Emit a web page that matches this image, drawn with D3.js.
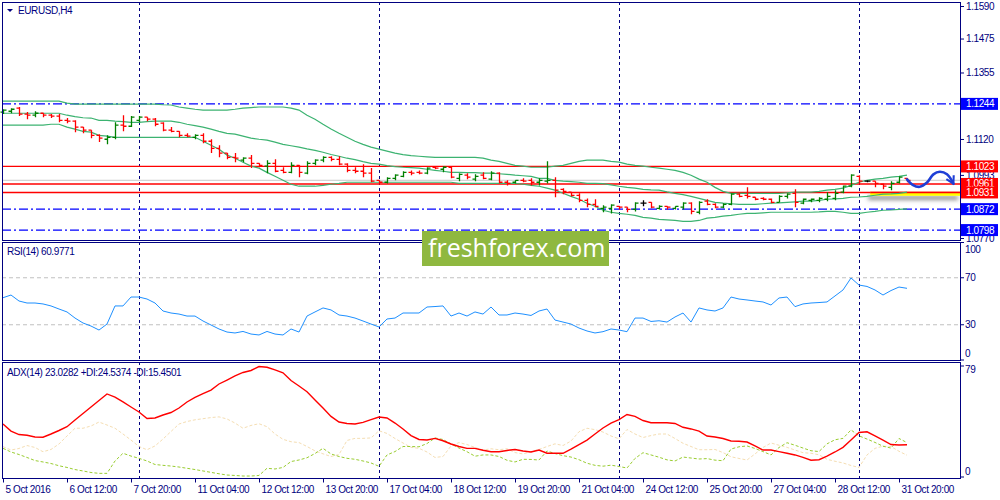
<!DOCTYPE html>
<html>
<head>
<meta charset="utf-8">
<title>EURUSD H4</title>
<script src="https://d3js.org/d3.v7.min.js"></script>
<style>
  body { margin: 0; background: #fff; }
  svg text { font-family: "Liberation Sans", Arial, sans-serif; font-size: 10px; letter-spacing: -0.4px; }
</style>
</head>
<body>
<script>
// ---- data (EURUSD H4, 5 Oct - 1 Nov 2016) ----
var xTickBars = [0, 8, 16, 24, 32, 40, 48, 56, 64, 72, 80, 88, 96, 104, 112]
var xTickLabels = ["5 Oct 2016", "6 Oct 12:00", "7 Oct 20:00", "11 Oct 04:00", "12 Oct 12:00",
    "13 Oct 20:00", "17 Oct 04:00", "18 Oct 12:00", "19 Oct 20:00", "21 Oct 04:00",
    "24 Oct 12:00", "25 Oct 20:00", "27 Oct 04:00", "28 Oct 12:00", "31 Oct 20:00"]
var weekSeparators = [17, 47, 77, 107]

var opens = [1.1215,1.1218,1.1229,1.1208,1.1204,1.1211,1.1204,1.1201,1.1186,1.1183,
    1.1162,1.1151,1.1133,1.1119,1.1126,1.1169,1.1165,1.1186,1.1197,1.1190,
    1.1176,1.1151,1.1147,1.1133,1.1126,1.1133,1.1112,1.1087,1.1070,1.1055,
    1.1045,1.1052,1.1034,1.1024,1.1034,1.1009,1.1002,1.1027,1.0999,1.1034,
    1.1045,1.1055,1.1048,1.1031,1.1009,1.1006,1.0999,1.0974,1.0967,1.0981,
    1.0988,1.1002,1.1002,1.0999,1.1020,1.1013,1.1020,1.0981,1.0992,1.0978,
    1.0992,1.0978,1.0999,1.0967,1.0967,1.0974,1.0974,1.0967,1.0971,1.0974,
    1.0942,1.0932,1.0921,1.0903,1.0889,1.0875,1.0875,1.0882,1.0879,1.0871,
    1.0893,1.0896,1.0875,1.0882,1.0875,1.0879,1.0893,1.0861,1.0900,1.0889,
    1.0879,1.0889,1.0925,1.0921,1.0914,1.0910,1.0907,1.0896,1.0917,1.0928,
    1.0893,1.0903,1.0903,1.0907,1.0910,1.0932,1.0953,1.0988,1.0971,1.0971,
    1.0960,1.0949,1.0967,1.0981]
var highs = [1.1225,1.1229,1.1233,1.1215,1.1218,1.1211,1.1208,1.1208,1.1194,1.1186,
    1.1162,1.1151,1.1137,1.1133,1.1179,1.1204,1.1201,1.1201,1.1197,1.1194,
    1.1179,1.1162,1.1147,1.1140,1.1137,1.1140,1.1119,1.1098,1.1070,1.1070,
    1.1055,1.1063,1.1034,1.1045,1.1048,1.1020,1.1038,1.1027,1.1041,1.1048,
    1.1059,1.1059,1.1059,1.1034,1.1020,1.1031,1.1017,1.0974,1.0985,1.0995,
    1.1006,1.1009,1.1009,1.1020,1.1024,1.1024,1.1024,1.0999,1.0999,1.0995,
    1.1002,1.1006,1.1002,1.0974,1.0974,1.0981,1.0981,1.0981,1.1041,1.0985,
    1.0946,1.0932,1.0928,1.0910,1.0907,1.0886,1.0889,1.0882,1.0879,1.0896,
    1.0903,1.0896,1.0886,1.0882,1.0882,1.0896,1.0896,1.0900,1.0907,1.0893,
    1.0893,1.0928,1.0928,1.0949,1.0914,1.0914,1.0910,1.0921,1.0928,1.0942,
    1.0910,1.0910,1.0914,1.0932,1.0939,1.0956,1.0995,1.0992,1.0974,1.0971,
    1.0963,1.0971,1.0988,1.0981]
var lows = [1.1208,1.1211,1.1201,1.1190,1.1197,1.1197,1.1194,1.1179,1.1176,1.1144,
    1.1140,1.1123,1.1109,1.1101,1.1119,1.1147,1.1162,1.1179,1.1183,1.1165,
    1.1147,1.1144,1.1126,1.1126,1.1119,1.1105,1.1070,1.1055,1.1048,1.1038,
    1.1038,1.1017,1.1020,1.0999,1.1002,1.0999,1.0999,1.0985,1.0995,1.1027,
    1.1038,1.1041,1.1027,1.1002,1.0999,1.0985,1.0967,1.0963,1.0963,1.0974,
    1.0985,1.0992,1.0995,1.0995,1.1013,1.1002,1.0981,1.0971,1.0978,1.0971,
    1.0978,1.0974,1.0963,1.0956,1.0963,1.0967,1.0956,1.0956,1.0963,1.0914,
    1.0925,1.0917,1.0896,1.0879,1.0879,1.0861,1.0857,1.0871,1.0861,1.0864,
    1.0882,1.0875,1.0871,1.0871,1.0871,1.0871,1.0854,1.0854,1.0886,1.0875,
    1.0875,1.0886,1.0914,1.0910,1.0903,1.0903,1.0893,1.0896,1.0910,1.0879,
    1.0889,1.0896,1.0896,1.0900,1.0903,1.0928,1.0949,1.0963,1.0967,1.0949,
    1.0942,1.0939,1.0963,1.0967]
var closes = [1.1222,1.1225,1.1208,1.1204,1.1211,1.1204,1.1201,1.1186,1.1183,1.1162,
    1.1151,1.1133,1.1123,1.1126,1.1169,1.1165,1.1197,1.1197,1.1190,1.1172,
    1.1151,1.1147,1.1133,1.1130,1.1133,1.1112,1.1087,1.1070,1.1055,1.1052,
    1.1052,1.1034,1.1027,1.1034,1.1006,1.1002,1.1027,1.1002,1.1034,1.1045,
    1.1055,1.1048,1.1031,1.1009,1.1006,1.0999,1.0971,1.0967,1.0981,1.0992,
    1.1002,1.0999,1.0999,1.1017,1.1017,1.1020,1.0985,1.0995,1.0985,1.0988,
    1.0981,1.0999,1.0967,1.0963,1.0974,1.0971,1.0967,1.0974,1.0974,1.0939,
    1.0935,1.0921,1.0903,1.0889,1.0882,1.0879,1.0886,1.0879,1.0871,1.0893,
    1.0893,1.0879,1.0882,1.0879,1.0882,1.0893,1.0864,1.0896,1.0889,1.0879,
    1.0889,1.0925,1.0917,1.0917,1.0907,1.0907,1.0896,1.0917,1.0925,1.0896,
    1.0907,1.0907,1.0910,1.0917,1.0928,1.0953,1.0992,1.0971,1.0971,1.0963,
    1.0953,1.0963,1.0985,1.0974]

var bbUpper = [1.1254,1.1254,1.1254,1.1254,1.1254,1.1254,1.1254,1.1254,1.1247,1.1243,
    1.1243,1.1243,1.1243,1.1243,1.1243,1.1243,1.1243,1.1243,1.1243,1.1243,
    1.1241,1.1240,1.1233,1.1229,1.1225,1.1222,1.1222,1.1222,1.1222,1.1225,
    1.1229,1.1231,1.1233,1.1233,1.1233,1.1233,1.1229,1.1222,1.1204,1.1190,
    1.1172,1.1155,1.1140,1.1126,1.1112,1.1101,1.1091,1.1084,1.1077,1.1070,
    1.1065,1.1061,1.1059,1.1057,1.1055,1.1055,1.1055,1.1055,1.1055,1.1055,
    1.1052,1.1045,1.1041,1.1034,1.1027,1.1024,1.1020,1.1020,1.1020,1.1024,
    1.1027,1.1034,1.1041,1.1045,1.1045,1.1045,1.1041,1.1038,1.1031,1.1027,
    1.1024,1.1020,1.1017,1.1013,1.1009,1.1002,1.0992,1.0978,1.0967,1.0949,
    1.0935,1.0928,1.0928,1.0928,1.0928,1.0928,1.0928,1.0928,1.0930,1.0932,
    1.0932,1.0932,1.0935,1.0939,1.0942,1.0946,1.0956,1.0967,1.0974,1.0978,
    1.0981,1.0985,1.0988,1.0992]
var bbMiddle = [1.1211,1.1211,1.1211,1.1211,1.1211,1.1211,1.1211,1.1211,1.1204,1.1199,
    1.1195,1.1194,1.1186,1.1186,1.1183,1.1181,1.1179,1.1179,1.1181,1.1183,
    1.1183,1.1183,1.1179,1.1172,1.1167,1.1162,1.1155,1.1147,1.1140,1.1137,
    1.1130,1.1123,1.1119,1.1116,1.1109,1.1101,1.1096,1.1091,1.1085,1.1080,
    1.1073,1.1065,1.1059,1.1052,1.1047,1.1040,1.1034,1.1031,1.1026,1.1022,
    1.1020,1.1019,1.1017,1.1013,1.1009,1.1006,1.1002,1.1002,1.1001,1.1001,
    1.0999,1.0999,1.0997,1.0995,1.0992,1.0990,1.0988,1.0981,1.0981,1.0974,
    1.0971,1.0969,1.0967,1.0963,1.0963,1.0962,1.0958,1.0953,1.0949,1.0946,
    1.0942,1.0940,1.0939,1.0933,1.0928,1.0923,1.0917,1.0910,1.0903,1.0896,
    1.0893,1.0891,1.0889,1.0889,1.0889,1.0891,1.0893,1.0894,1.0896,1.0898,
    1.0900,1.0900,1.0903,1.0907,1.0908,1.0910,1.0914,1.0915,1.0917,1.0921,
    1.0925,1.0926,1.0928,1.0932]
var bbLower = [1.1169,1.1169,1.1169,1.1169,1.1169,1.1169,1.1172,1.1172,1.1162,1.1155,
    1.1147,1.1144,1.1133,1.1130,1.1126,1.1126,1.1126,1.1126,1.1126,1.1126,
    1.1126,1.1126,1.1126,1.1126,1.1126,1.1112,1.1098,1.1084,1.1063,1.1052,
    1.1038,1.1024,1.1017,1.1002,1.0988,1.0974,1.0960,1.0953,1.0953,1.0953,
    1.0956,1.0960,1.0963,1.0967,1.0967,1.0967,1.0967,1.0967,1.0967,1.0967,
    1.0967,1.0967,1.0967,1.0967,1.0967,1.0967,1.0967,1.0963,1.0963,1.0963,
    1.0963,1.0963,1.0963,1.0963,1.0963,1.0960,1.0956,1.0953,1.0946,1.0939,
    1.0928,1.0917,1.0907,1.0893,1.0882,1.0868,1.0861,1.0857,1.0854,1.0850,
    1.0843,1.0840,1.0836,1.0834,1.0832,1.0829,1.0829,1.0832,1.0840,1.0843,
    1.0847,1.0850,1.0854,1.0857,1.0857,1.0859,1.0861,1.0861,1.0861,1.0861,
    1.0861,1.0861,1.0862,1.0864,1.0864,1.0861,1.0857,1.0857,1.0861,1.0864,
    1.0868,1.0869,1.0871,1.0873]

var rsi14 = [53.0,55.3,50.2,48.5,48.5,47.7,46.0,43.4,40.9,35.7,
    31.5,28.9,25.5,30.6,46.0,46.0,53.6,53.6,51.9,48.5,
    41.7,40.0,39.1,37.4,37.4,33.2,29.8,26.4,23.8,23.0,
    24.3,22.1,21.3,24.3,22.1,21.3,26.4,23.8,37.4,40.9,
    44.3,42.6,38.3,37.4,35.7,33.2,30.6,28.1,34.9,35.7,
    40.0,40.0,40.0,45.1,45.5,46.0,37.4,40.0,37.4,40.9,
    39.1,45.1,38.3,38.3,40.0,39.1,37.9,41.7,43.4,34.0,
    32.3,30.6,27.2,24.7,23.0,24.1,26.4,25.5,24.1,35.7,
    35.7,32.8,33.4,32.3,36.6,40.0,32.3,44.3,42.6,41.7,
    44.3,53.6,51.9,51.1,50.2,49.4,46.8,52.8,53.6,45.4,
    47.7,48.5,48.9,49.4,54.5,59.6,69.8,63.8,62.6,59.6,
    55.3,59.1,62.1,61.0]
var rsiLevels = [70, 30]
var rsiTicks = [100, 70, 30, 0]

var adx14 = [37.7,32.7,30.2,29.7,28.5,28.3,30.6,33.1,35.8,40.6,
    45.2,49.8,54.4,59.1,56.9,53.4,49.8,46.3,41.6,42.0,
    44.1,45.9,49.1,53.4,56.6,59.4,61.9,66.2,69.0,71.9,
    74.4,75.8,78.6,78.1,76.2,74.2,68.7,64.8,60.7,54.8,
    49.1,43.1,39.1,38.1,37.7,38.9,40.8,42.7,42.0,38.4,
    34.2,29.5,26.7,26.3,27.5,25.8,23.5,21.7,20.4,20.4,
    19.0,18.0,18.0,18.9,19.6,18.5,17.8,19.2,16.9,16.9,
    16.9,19.9,23.1,26.3,30.6,34.9,38.4,40.9,44.5,43.1,
    40.2,38.6,38.6,38.6,38.1,35.4,34.2,32.7,29.2,28.5,
    27.4,25.6,25.4,24.9,22.1,19.2,19.2,18.1,16.9,15.7,
    14.0,11.9,12.3,14.8,17.8,21.1,26.3,31.7,32.2,29.2,
    26.3,23.1,22.8,23.0]
var diPlus = [20.4,17.8,16.0,13.9,11.7,10.7,9.6,8.0,6.8,5.3,
    4.3,3.2,2.6,2.6,11.4,16.9,14.9,13.3,11.4,8.9,
    8.3,7.8,7.1,6.2,5.3,4.3,3.3,2.3,1.4,1.1,
    0.7,0.7,1.1,6.2,5.7,6.8,11.0,12.1,13.7,16.7,
    20.4,16.4,14.6,13.3,12.6,11.4,10.0,7.6,15.7,18.1,
    21.7,21.7,21.5,23.8,27.8,26.7,23.5,20.6,18.0,14.8,
    15.7,15.7,14.6,11.9,10.7,12.6,12.5,12.1,18.5,16.7,
    15.2,14.2,12.3,9.8,8.3,7.7,8.4,7.5,6.4,13.2,
    17.3,15.7,14.1,12.2,11.4,14.2,13.5,12.8,13.1,12.0,
    11.6,19.9,21.5,22.1,20.3,18.1,15.7,21.0,24.4,22.6,
    20.6,18.7,18.1,23.6,26.5,27.5,33.5,29.3,27.0,24.6,
    21.9,20.6,27.4,24.5]
var diMinus = [21.6,19.2,20.3,22.4,21.0,18.0,19.6,23.5,29.2,34.7,
    34.7,36.3,39.1,37.0,34.7,30.6,26.3,21.7,19.4,22.1,
    27.0,32.4,37.7,39.5,40.7,41.5,42.3,42.8,41.3,38.4,
    34.7,36.7,37.9,35.8,30.6,26.8,25.1,24.5,21.7,18.6,
    16.5,14.6,16.0,26.0,27.5,27.5,27.8,32.9,31.0,27.4,
    24.2,21.1,20.4,17.8,13.9,14.6,22.1,24.5,23.1,21.0,
    19.2,20.1,19.4,20.1,17.4,16.4,18.1,19.6,21.7,23.6,
    22.4,25.6,32.2,34.7,33.7,32.0,29.2,27.2,33.8,30.6,
    28.1,29.5,30.6,30.6,27.4,24.0,21.7,19.4,19.4,19.6,
    17.4,14.4,13.2,12.1,16.4,21.0,24.2,22.6,21.1,19.2,
    17.3,16.9,15.8,12.6,11.2,10.0,8.2,6.8,15.7,20.4,
    21.9,21.7,18.3,15.5]
var adxTicks = [79, 0]

var priceTicks = [1.1590, 1.1475, 1.1355, 1.1120, 1.0993, 1.0770]
var levelPrices = [1.1244, 1.1023, 1.0961, 1.0931, 1.0872, 1.0798]
var levelKinds  = ["blue", "red", "red", "red", "blue", "blue"]
// forecast arrow drawn on the chart: [bar, price]
var forecastPath = [[113, 1.0977], [113.7, 1.0958], [114.6, 1.0951], [115.5, 1.0966],
    [116.3, 1.0995], [117.1, 1.1004], [118.0, 1.0995], [118.8, 1.0962]]
var supportZone = [108.4, 1.0933, 1.0919]   // from bar, top, bottom

// ---- layout ----
var width = 1000, height = 500
var L = 2, R = 960
var mainTop = 2, mainBot = 240, rsiTop = 242, rsiBot = 360, adxTop = 362, adxBot = 478
var navy = "#000080"

var svg = d3.select("body").append("svg")
    .attr("width", width).attr("height", height)
    .style("display", "block").style("background", "#fff")

var defs = svg.append("defs")
var sh = defs.append("filter").attr("id", "shadow").attr("x", "-10%").attr("y", "-50%")
    .attr("width", "130%").attr("height", "400%")
sh.append("feDropShadow").attr("dx", -2).attr("dy", 4).attr("stdDeviation", 2)
    .attr("flood-color", "#555").attr("flood-opacity", 0.7)
defs.append("marker").attr("id", "head").attr("viewBox", "0 0 10 10")
    .attr("refX", 8).attr("refY", 5).attr("markerWidth", 4).attr("markerHeight", 4)
    .attr("orient", "auto")
  .append("path").attr("d", "M1,1 L8,5 L1,9").attr("fill", "none")
    .attr("stroke", "#1f3fd6").attr("stroke-width", 2)

var x = d3.scaleLinear().domain([0, 113]).range([3, 907])
var y = d3.scaleLinear().domain([1.0770, 1.1590]).range([238, 6])
var yRsi = d3.scaleLinear().domain([0, 100]).range([360, 242.5])
var yAdx = d3.scaleLinear().domain([0, 79]).range([477, 366])

var idx = d3.range(closes.length)

// weekly separators
svg.append("g").selectAll("line").data(weekSeparators).enter().append("line")
    .attr("x1", d => x(d) + 0.5).attr("x2", d => x(d) + 0.5)
    .attr("y1", mainTop).attr("y2", adxBot)
    .attr("stroke", navy).attr("stroke-width", 1).attr("stroke-dasharray", "3,3")

// bid line
svg.append("line").attr("x1", L).attr("x2", R)
    .attr("y1", y(closes[closes.length - 1])).attr("y2", y(closes[closes.length - 1]))
    .attr("stroke", "#c8c8c8").attr("stroke-width", 1)

// horizontal levels
svg.append("g").selectAll("line").data(levelPrices).enter().append("line")
    .attr("x1", L).attr("x2", R)
    .attr("y1", d => y(d)).attr("y2", d => y(d))
    .attr("stroke", (d, i) => levelKinds[i] == "red" ? "#ff0000" : "#0000ff")
    .attr("stroke-width", 1.4)
    .attr("stroke-dasharray", (d, i) => levelKinds[i] == "red" ? null : "9,3,2,3")

// support zone
svg.append("rect")
    .attr("x", x(supportZone[0])).attr("width", R - x(supportZone[0]))
    .attr("y", y(supportZone[1])).attr("height", y(supportZone[2]) - y(supportZone[1]))
    .attr("fill", "#ffff00").attr("filter", "url(#shadow)")
svg.append("line").attr("x1", x(supportZone[0])).attr("x2", R)
    .attr("y1", y(1.0931)).attr("y2", y(1.0931)).attr("stroke", "#ff0000").attr("stroke-width", 1.4)

// bollinger bands
var bandLine = function (arr) {
    return d3.line().x(i => x(i)).y(i => y(arr[i])).curve(d3.curveLinear)(idx)
}
;[bbUpper, bbMiddle, bbLower].forEach(function (arr) {
    svg.append("path").attr("d", bandLine(arr)).attr("fill", "none")
        .attr("stroke", "#3cb371").attr("stroke-width", 1.2)
})

// OHLC bars
svg.append("g").selectAll("path").data(idx).enter().append("path")
    .attr("d", function (i) {
        var cx = x(i) + 0.5
        return "M" + cx + "," + y(highs[i]) + "V" + y(lows[i]) +
            "M" + (cx - 3) + "," + y(opens[i]) + "H" + cx +
            "M" + cx + "," + y(closes[i]) + "H" + (cx + 3)
    })
    .attr("fill", "none").attr("stroke-width", 1.3)
    .attr("stroke", i => closes[i] > opens[i] ? "#008000" : (closes[i] < opens[i] ? "#ff0000" : "#000"))

// forecast arrow
svg.append("path")
    .attr("d", d3.line().x(d => x(d[0])).y(d => y(d[1])).curve(d3.curveCatmullRom)(forecastPath))
    .attr("fill", "none").attr("stroke", "#1f3fd6").attr("stroke-width", 2.6)
    .attr("stroke-linecap", "round").attr("marker-end", "url(#head)")

// RSI panel
svg.append("g").selectAll("line").data(rsiLevels).enter().append("line")
    .attr("x1", L).attr("x2", R).attr("y1", d => yRsi(d)).attr("y2", d => yRsi(d))
    .attr("stroke", "#c0c0c0").attr("stroke-dasharray", "4,3")
svg.append("path")
    .attr("d", d3.line().x(i => x(i)).y(i => yRsi(rsi14[i]))(idx))
    .attr("fill", "none").attr("stroke", "#1e90ff").attr("stroke-width", 1)

// ADX panel
svg.append("path")
    .attr("d", d3.line().x(i => x(i)).y(i => yAdx(diMinus[i]))(idx))
    .attr("fill", "none").attr("stroke", "#f5deb3").attr("stroke-width", 1).attr("stroke-dasharray", "3,2")
svg.append("path")
    .attr("d", d3.line().x(i => x(i)).y(i => yAdx(diPlus[i]))(idx))
    .attr("fill", "none").attr("stroke", "#9acd32").attr("stroke-width", 1).attr("stroke-dasharray", "3,2")
svg.append("path")
    .attr("d", d3.line().x(i => x(i)).y(i => yAdx(adx14[i]))(idx))
    .attr("fill", "none").attr("stroke", "#ff0000").attr("stroke-width", 1.4)

// panel frames
;[[mainTop, mainBot], [rsiTop, rsiBot], [adxTop, adxBot]].forEach(function (p) {
    svg.append("rect").attr("x", L + 0.5).attr("y", p[0] + 0.5)
        .attr("width", R - L).attr("height", p[1] - p[0])
        .attr("fill", "none").attr("stroke", navy).attr("stroke-width", 1)
})

// price axis
var pa = svg.append("g").attr("transform", "translate(" + R + ",0)")
    .call(d3.axisRight(y).tickValues(priceTicks).tickSize(4).tickPadding(2).tickFormat(d3.format(".4f")))
pa.select(".domain").remove()
pa.selectAll("line").attr("stroke", navy)
pa.selectAll("text").attr("fill", navy)
pa.attr("font-family", null).attr("font-size", null)

// level price boxes
var boxes = svg.append("g").selectAll("g").data(levelPrices).enter().append("g")
    .attr("transform", d => "translate(" + (R + 1) + "," + y(d) + ")")
boxes.append("rect").attr("x", 0).attr("y", -6).attr("width", 37).attr("height", 12)
    .attr("fill", (d, i) => levelKinds[i] == "red" ? "#ff0000" : "#0000ff")
boxes.append("text").attr("x", 5).attr("dy", "0.35em").attr("fill", "#fff")
    .text(d => d3.format(".4f")(d))

// indicator axes (edge labels kept inside the panel as MT4 does)
function sideLabels(vals, sc, top, bot) {
    var g = svg.append("g")
    g.selectAll("line").data(vals).enter().append("line")
        .attr("x1", R).attr("x2", R + 4).attr("y1", d => sc(d)).attr("y2", d => sc(d))
        .attr("stroke", navy)
    g.selectAll("text").data(vals).enter().append("text")
        .attr("x", R + 5).attr("dy", "0.35em").attr("fill", navy)
        .attr("y", d => Math.max(top + 7, Math.min(bot - 7, sc(d))))
        .text(d => d)
}
sideLabels(rsiTicks, yRsi, rsiTop, rsiBot)
sideLabels(adxTicks, yAdx, adxTop, adxBot)

// time axis
var ta = svg.append("g").attr("transform", "translate(0," + (adxBot + 0.5) + ")")
    .call(d3.axisBottom(x).tickValues(xTickBars).tickSize(4).tickPadding(3)
        .tickFormat((d, i) => xTickLabels[i]))
ta.select(".domain").remove()
ta.selectAll("line").attr("stroke", navy)
ta.selectAll("text").attr("fill", navy).attr("text-anchor", "start").attr("x", 2)
ta.attr("font-family", null).attr("font-size", null)

// panel captions
svg.append("path").attr("d", "M7,9 L13,9 L10,12 Z").attr("fill", navy)
svg.append("text").attr("x", 18).attr("y", 14).attr("fill", navy).text("EURUSD,H4")
svg.append("text").attr("x", 7).attr("y", 255).attr("fill", navy).text("RSI(14) 60.9771")
svg.append("text").attr("x", 7).attr("y", 376).attr("fill", navy)
    .text("ADX(14) 23.0282 +DI:24.5374 -DI:15.4501")

// watermark
svg.append("rect").attr("x", 422).attr("y", 231).attr("width", 187).attr("height", 35).attr("fill", "#8fb840")
svg.append("text").attr("x", 428).attr("y", 257).attr("fill", "#fff")
    .style("font-family", "'Open Sans', sans-serif").style("font-size", "25px").style("letter-spacing", "0px")
    .text("freshforex.com")
</script>
</body>
</html>
